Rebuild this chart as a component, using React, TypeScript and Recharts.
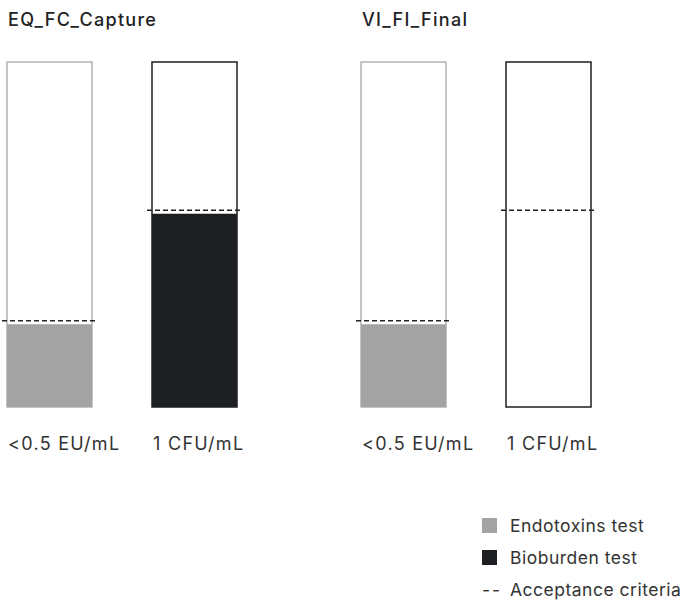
import React from "react";
import { ComposedChart, Bar, Cell, XAxis, YAxis } from "recharts";

const categories = ["<0.5 EU/mL", "1 CFU/mL"];
const panelTitles = ["EQ_FC_Capture", "VI_FI_Final"];
const captureValues = [24, 56];
const finalValues = [24, 0];
const acceptanceLimits = [25, 57];
const scaleMax = 100;
const legendItems = ["Endotoxins test", "Bioburden test", "Acceptance criteria"];

const FILLS = ["#a3a3a3", "#1e1f22"];
const OUTLINES = ["#b3b3b3", "#1e1f22"];
const FONT = "Inter, 'Noto Sans', sans-serif";
const BAR = 85;
const SPACING = 1.3;

function build(values: number[]) {
  return categories.map((name, i) => ({
    name,
    full: scaleMax,
    value: values[i],
    limit: acceptanceLimits[i],
  }));
}

const Tick = (props: any) => {
  const { x, y, payload } = props;
  return (
    <text
      x={x - BAR / 2 + 1}
      y={y + 35}
      textAnchor="start"
      fontSize={18}
      letterSpacing={SPACING}
      fill="#333"
      fontFamily={FONT}
    >
      {payload.value}
    </text>
  );
};

const Dash = (props: any) => {
  const { x, y, width } = props;
  return (
    <line x1={x - 5} x2={x + width + 5} y1={y} y2={y} stroke="#222" strokeWidth={1.5} strokeDasharray="5 3" />
  );
};

function Panel({ values, left, title }: { values: number[]; left: number; title: string }) {
  const data = build(values);
  return (
    <>
      <div
        style={{
          position: "absolute",
          left: left + 31,
          top: 11,
          fontFamily: FONT,
          fontSize: 18,
          lineHeight: "18px",
          letterSpacing: SPACING,
          fontWeight: 500,
          color: "#222",
        }}
      >
        {title}
      </div>
      <div style={{ position: "absolute", left, top: 0 }}>
        <ComposedChart width={290} height={470} data={data} margin={{ top: 62, right: 0, bottom: 0, left: 0 }}>
          <XAxis dataKey="name" xAxisId="a" height={63} tick={<Tick />} tickLine={false} axisLine={false} interval={0} />
          <XAxis dataKey="name" xAxisId="b" hide />
          <XAxis dataKey="name" xAxisId="c" hide />
          <YAxis domain={[0, scaleMax]} hide />
          <Bar dataKey="full" xAxisId="a" barSize={BAR} fill="#fff" strokeWidth={1.5} isAnimationActive={false}>
            {data.map((_, i) => (
              <Cell key={i} stroke={OUTLINES[i]} />
            ))}
          </Bar>
          <Bar dataKey="value" xAxisId="b" barSize={BAR} isAnimationActive={false}>
            {data.map((_, i) => (
              <Cell key={i} fill={FILLS[i]} />
            ))}
          </Bar>
          <Bar dataKey="limit" xAxisId="c" barSize={BAR} shape={<Dash />} isAnimationActive={false} />
        </ComposedChart>
      </div>
    </>
  );
}

export default function App() {
  return (
    <div style={{ position: "absolute", left: 0, top: 0, width: 692, height: 605, background: "#fff", overflow: "hidden" }}>
      <Panel values={captureValues} left={-23} title={panelTitles[0]} />
      <Panel values={finalValues} left={331} title={panelTitles[1]} />
      <div
        style={{
          position: "absolute",
          left: 482,
          top: 509,
          fontFamily: FONT,
          fontSize: 17.5,
          letterSpacing: 0.5,
          color: "#333",
          whiteSpace: "nowrap",
        }}
      >
        {legendItems.map((label, i) => (
          <div key={label} style={{ display: "flex", alignItems: "center", height: 32 }}>
            {i < 2 ? (
              <span style={{ width: 15, height: 15, background: FILLS[i], display: "inline-block", marginRight: 13 }} />
            ) : (
              <span style={{ width: 15, marginRight: 13, display: "inline-block", letterSpacing: 2 }}>--</span>
            )}
            {label}
          </div>
        ))}
      </div>
    </div>
  );
}
